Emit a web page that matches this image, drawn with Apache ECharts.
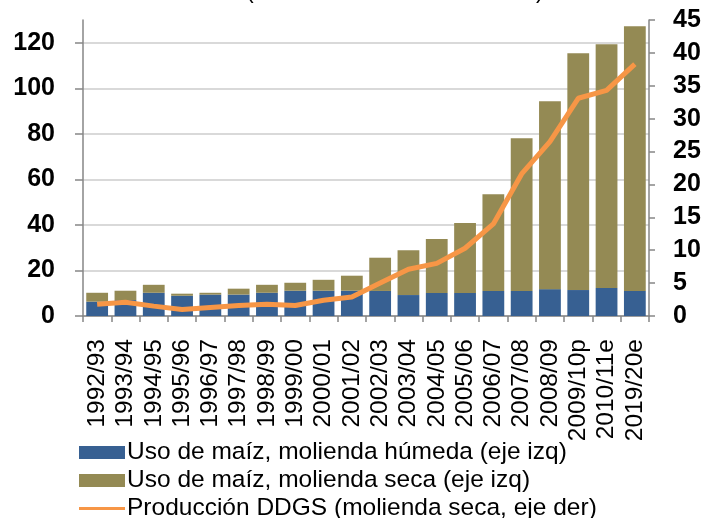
<!DOCTYPE html>
<html lang="es">
<head>
    <meta charset="UTF-8">
    <title>Uso de maíz y producción DDGS</title>
    <script src="https://cdn.jsdelivr.net/npm/echarts@6/dist/echarts.min.js" type="text/javascript"></script>
    <style>
        html, body { margin: 0; padding: 0; background: #fff; }
        #main { width: 714px; height: 518px; }
    </style>
</head>
<body>
<div id="main"></div>
<script type="text/javascript">
    // campañas (eje x)
    var campanas = ['1992/93', '1993/94', '1994/95', '1995/96', '1996/97', '1997/98', '1998/99', '1999/00',
        '2000/01', '2001/02', '2002/03', '2003/04', '2004/05', '2005/06', '2006/07', '2007/08',
        '2008/09', '2009/10p', '2010/11e', '2019/20e'];
    // molienda húmeda (eje izq)
    var humeda = [6.3, 7.0, 10.2, 8.9, 9.4, 9.4, 10.2, 11.1, 11.1, 11.1, 11.0, 9.2, 10.1, 10.1, 11.0, 11.0, 11.8, 11.4, 12.3, 11.0];
    // molienda seca (eje izq)
    var seca = [3.9, 4.1, 3.5, 0.9, 0.8, 2.6, 3.5, 3.5, 4.8, 6.6, 14.6, 19.7, 23.7, 30.7, 42.5, 67.1, 82.5, 104.0, 107.0, 116.3];
    // producción DDGS (eje der)
    var ddgs = [1.8, 2.1, 1.5, 1.0, 1.3, 1.6, 1.8, 1.6, 2.4, 2.9, 5.0, 7.1, 8.0, 10.3, 14.0, 21.6, 26.5, 33.1, 34.3, 38.3];

    var nombres = ['Uso de maíz, molienda húmeda (eje izq)', 'Uso de maíz, molienda seca (eje izq)',
        'Producción DDGS (molienda seca, eje der)'];

    var font = 'Liberation Sans, Arial, sans-serif';
    var gris = '#868686';

    // una leyenda por fila, para que no se parta en columnas
    function leyenda(item, top) {
        return {
            orient: 'vertical',
            left: 74,
            top: top,
            itemWidth: 46,
            itemHeight: 13,
            textStyle: { fontSize: 24.5, lineHeight: 24, color: '#000', fontFamily: font, padding: [0, 0, 0, -3] },
            data: [item]
        };
    }

    var myChart = echarts.init(document.getElementById('main'));
    var option = {
        animation: false,
        textStyle: { fontFamily: font },
        grid: { left: 83, right: 65, top: 20, bottom: 202, containLabel: false },
        // restos del título cortado arriba
        graphic: [
            { type: 'text', left: 246, top: -20, style: { text: '(', font: '23px ' + font, fill: '#000' } },
            { type: 'text', left: 536, top: -20, style: { text: ')', font: '23px ' + font, fill: '#000' } }
        ],
        legend: [
            leyenda({ name: nombres[0], icon: 'rect' }, 435),
            leyenda({ name: nombres[1], icon: 'rect' }, 463),
            // línea fina centrada en la caja del icono
            leyenda({ name: nombres[2], icon: 'path://M0,0L46,0M0,5L46,5L46,8L0,8ZM0,13L46,13' }, 491)
        ],
        xAxis: {
            type: 'category',
            data: campanas,
            axisLine: { lineStyle: { color: gris, width: 1.5 } },
            axisTick: { show: true, length: 6, lineStyle: { color: gris, width: 1.5 } },
            axisLabel: { rotate: 90, interval: 0, margin: 23, fontSize: 24.5, color: '#000' }
        },
        yAxis: [
            {
                type: 'value',
                min: 0,
                max: 130,
                interval: 20,
                axisLine: { show: true, lineStyle: { color: gris, width: 1.5 } },
                axisTick: { show: true, length: 8, lineStyle: { color: gris, width: 1.5 } },
                axisLabel: { showMaxLabel: false, margin: 28, fontSize: 25, fontWeight: 'bold', color: '#000' },
                splitLine: { show: true, showMaxLine: false, lineStyle: { color: '#d9d9d9', width: 2 } }
            },
            {
                type: 'value',
                min: 0,
                max: 45,
                interval: 5,
                position: 'right',
                axisLine: { show: true, lineStyle: { color: gris, width: 1.5 } },
                axisTick: { show: true, length: 6, lineStyle: { color: gris, width: 1.5 } },
                axisLabel: { margin: 24, fontSize: 25, fontWeight: 'bold', color: '#000' },
                splitLine: { show: false }
            }
        ],
        series: [
            {
                name: nombres[0],
                type: 'bar',
                stack: 'maiz',
                barCategoryGap: '23%',
                itemStyle: { color: '#376092' },
                data: humeda
            },
            {
                name: nombres[1],
                type: 'bar',
                stack: 'maiz',
                itemStyle: { color: '#948a54' },
                data: seca
            },
            {
                name: nombres[2],
                type: 'line',
                yAxisIndex: 1,
                symbol: 'none',
                lineStyle: { color: '#f79646', width: 5 },
                itemStyle: { color: '#f79646' },
                data: ddgs
            }
        ]
    };
    myChart.setOption(option);
</script>
</body>
</html>
